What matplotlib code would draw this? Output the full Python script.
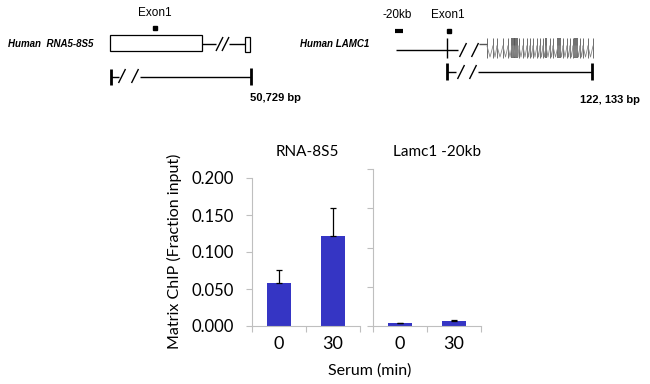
import numpy as np
import matplotlib.pyplot as plt

# bar chart data
panels = ['RNA-8S5', 'Lamc1 -20kb']
serum = ['0', '30']
rna_vals = [0.058, 0.121]
rna_err = [0.018, 0.039]
lamc_vals = [0.004, 0.006]
lamc_err = [0.0, 0.0015]
yticks = [0.0, 0.05, 0.10, 0.15, 0.20]

# LAMC1 exon positions (pixel x of the drawing) and line widths
lamc_exons = [487, 493, 497, 503, 508, 512, 513.5, 515, 517, 519, 523, 527, 530,
              533, 537, 540, 543, 546, 550, 553, 558, 560, 563, 567, 570, 573,
              575, 577, 580, 583, 588, 593]
lamc_exon_lw = [0.6, 0.6, 0.6, 0.6, 0.6, 1.2, 1.2, 1.2, 1.2, 0.6, 0.6, 0.6, 0.6,
                0.6, 0.6, 0.6, 0.6, 1.2, 0.6, 0.6, 1.2, 1.2, 0.6, 0.6, 0.6, 0.6,
                1.2, 1.2, 0.6, 0.6, 0.6, 0.6]

bar_color = '#3535c4'
spine_color = '#bfbfbf'
font_chart = 'Lato'
font_diag = 'Liberation Sans'

fig = plt.figure(figsize=(6.5, 3.84), dpi=100)

# overlay in pixel coordinates for the gene diagrams and labels
ov = fig.add_axes([0, 0, 1, 1])
ov.set_xlim(0, 650)
ov.set_ylim(384, 0)
ov.axis('off')


def line(x0, y0, x1, y1, lw=1.0, color='black'):
    ov.plot([x0, x1], [y0, y1], color=color, lw=lw, solid_capstyle='butt')


def slash(xc, yc, h=7, w=3.5, lw=1.0):
    line(xc - w, yc + h, xc + w, yc - h, lw=lw)


# ---- Human RNA5-8S5 ----
ov.text(155, 13, 'Exon1', ha='center', va='center', fontsize=8.5, family=font_diag)
ov.plot([155], [28], 's', color='black', ms=2.2)
ov.text(8, 44, 'Human  RNA5-8S5', ha='left', va='center', fontsize=7,
        family=font_diag, weight='bold', style='italic')
ov.add_patch(plt.Rectangle((110, 35), 92, 16, fill=False, lw=0.9, ec='black'))
line(202, 43.5, 216, 43.5)
slash(219.5, 44)
slash(225.5, 44)
line(229, 43.5, 245, 43.5)
ov.add_patch(plt.Rectangle((245, 36.5), 4.5, 15, fill=False, lw=0.9, ec='black'))
# scale bar
line(110.5, 69, 110.5, 85, lw=2)
line(110.5, 77, 119, 77)
slash(122, 76)
slash(135, 76)
line(140, 77, 251, 77)
line(251, 68, 251, 85, lw=2)
ov.text(250, 98, '50,729 bp', ha='left', va='center', fontsize=8,
        family=font_diag, weight='bold')

# ---- Human LAMC1 ----
ov.text(397, 15, '-20kb', ha='center', va='center', fontsize=8.5, family=font_diag)
ov.text(448, 15, 'Exon1', ha='center', va='center', fontsize=8.5, family=font_diag)
line(395, 31, 403, 31, lw=3)
ov.plot([449], [31], 's', color='black', ms=2.2)
ov.text(300, 44, 'Human LAMC1', ha='left', va='center', fontsize=7,
        family=font_diag, weight='bold', style='italic')
line(396, 50, 458, 50)
line(447, 38, 447, 58)
slash(463, 50)
slash(475, 50)
line(478.5, 43.5, 487, 43.5, color='#555555')
for x, w in zip(lamc_exons, lamc_exon_lw):
    line(x, 38, x, 58, lw=w, color='#555555')
for x0, x1 in zip(lamc_exons[:-1], lamc_exons[1:]):
    xm = (x0 + x1) / 2
    ov.plot([x0, xm, x1], [46, 57, 46], color='#888888', lw=0.6)
# scale bar
line(447, 63, 447, 80, lw=2)
line(447, 72, 456, 72)
slash(461, 72)
slash(473, 72)
line(478, 72, 592, 72)
line(592, 63, 592, 80, lw=2)
ov.text(640, 100, '122, 133 bp', ha='right', va='center', fontsize=8,
        family=font_diag, weight='bold')

# ---- bar charts ----
ax1 = fig.add_axes([252 / 650, 1 - 326 / 384, 108 / 650, 148 / 384])
ax2 = fig.add_axes([373 / 650, 1 - 326 / 384, 108 / 650, 157 / 384])

x = np.arange(len(serum))
for ax, vals, errs in [(ax1, rna_vals, rna_err), (ax2, lamc_vals, lamc_err)]:
    ax.bar(x, vals, width=0.43, color=bar_color,
           yerr=[np.zeros(len(errs)), errs],
           error_kw=dict(ecolor='black', elinewidth=0.9, capsize=2, capthick=0.9))
    ax.set_xlim(-0.5, 1.5)
    ax.set_ylim(0, 0.2)
    ax.patch.set_alpha(0)
    for s in ['top', 'right']:
        ax.spines[s].set_visible(False)
    for s in ['left', 'bottom']:
        ax.spines[s].set_color(spine_color)
        ax.spines[s].set_linewidth(0.8)
    ax.set_xticks([-0.5, 0.5, 1.5])
    ax.set_xticklabels([])
    ax.set_xticks(x, minor=True)
    ax.set_xticklabels(serum, minor=True, fontsize=13, family=font_chart)
    ax.tick_params(axis='x', which='major', length=4, color=spine_color, width=0.8)
    ax.tick_params(axis='x', which='minor', length=0, pad=7)
    ax.set_yticks(yticks)
    ax.tick_params(axis='y', length=4, color=spine_color, width=0.8, pad=9)

ax1.set_yticklabels(['%.3f' % v for v in yticks], fontsize=12, family=font_chart)
ax2.set_yticklabels([])

ov.text(307, 152, panels[0], ha='center', va='center', fontsize=11, family=font_chart)
ov.text(437, 152, panels[1], ha='center', va='center', fontsize=11, family=font_chart)
ov.text(174, 251, 'Matrix ChIP (Fraction input)', ha='center', va='center',
        rotation=90, fontsize=11.5, family=font_chart)
ov.text(370, 371, 'Serum (min)', ha='center', va='center', fontsize=11.5,
        family=font_chart)

fig.savefig('out.png', dpi=100)
